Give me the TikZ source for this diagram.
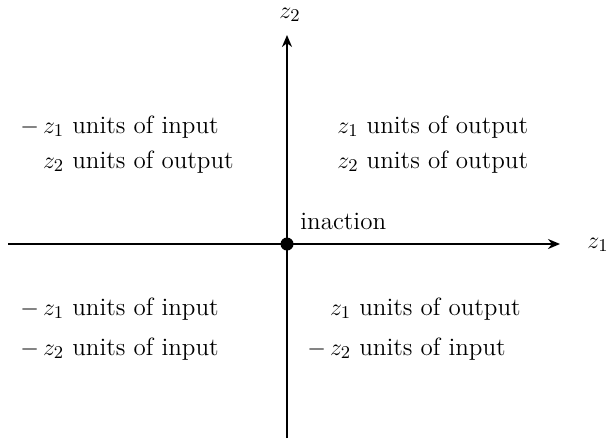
\documentclass[tikz,border=0pt]{standalone}
\usepackage{amsmath, amssymb}
\usetikzlibrary{arrows.meta}
\begin{document}
\begin{tikzpicture}[
    x=0.5pt, y=-0.5pt,
    >={Stealth[length=6pt, width=5pt]},
    axis/.style={line width=1pt},
    qtext/.style={anchor=west, inner sep=0pt, text height=9pt, text depth=3pt, font=\fontsize{12.5}{15}\selectfont},
    axlabel/.style={inner sep=0pt, font=\fontsize{12.5}{15}\selectfont}
]
    \useasboundingbox (0,0) rectangle (608,440);
    \coordinate (xl) at (8,244);
    \coordinate (xr) at (560,244);
    \coordinate (yb) at (287,438);
    \coordinate (yt) at (287,35);
    \node[circle, fill=black, inner sep=0pt, minimum size=6.5pt] (o) at (287,244) {};

    \draw[->, axis] (xl) -- (xr);
    \draw[->, axis] (yb) -- (yt);
    \node[axlabel] (z1) at (598,245) {$z_1$};
    \node[axlabel] (z2) at (290,15) {$z_2$};
    \node[qtext] (inact) at (300,223) {inaction};

    % upper left
    \node[qtext] (nw1) at (20,127) {$-\,z_1$ units of input};
    \node[qtext] (nw2) at (20,162) {$\phantom{-\,}z_2$ units of output};
    % upper right
    \node[qtext] (ne1) at (337,127) {$z_1$ units of output};
    \node[qtext] (ne2) at (337,162) {$z_2$ units of output};
    % lower left
    \node[qtext] (sw1) at (20,309) {$-\,z_1$ units of input};
    \node[qtext] (sw2) at (20,349) {$-\,z_2$ units of input};
    % lower right
    \node[qtext] (se1) at (307,309) {$\phantom{-\,}z_1$ units of output};
    \node[qtext] (se2) at (307,349) {$-\,z_2$ units of input};
\end{tikzpicture}
\end{document}
